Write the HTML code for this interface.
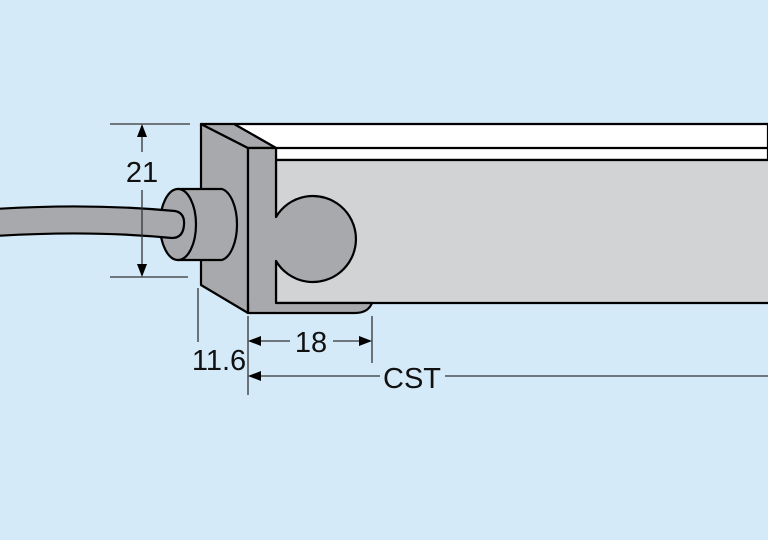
<!DOCTYPE html>
<html><head><style>html,body{margin:0;padding:0;background:#d5eaf8;}svg{display:block}</style></head>
<body>
<svg width="768" height="540" viewBox="0 0 768 540" xmlns="http://www.w3.org/2000/svg">
<rect width="768" height="540" fill="#d5eaf8"/>
<g stroke="#000" stroke-width="2.2" stroke-linejoin="round">
<!-- top white -->
<polygon points="234,124 768,124 768,160 276,160 276,148" fill="#fff"/>
<line x1="276" y1="148" x2="768" y2="148"/>
<!-- body -->
<rect x="276" y="160" width="500" height="143" fill="#d1d3d4"/>
<!-- bottom strip -->
<path d="M248,303 L372,303 Q368,313 355,313 L248,313 Z" fill="#a7a9ac" stroke="none"/>
<!-- left face -->
<polygon points="201,124 248,148 248,313 201,285" fill="#a7a9ac"/>
<!-- top face of cap -->
<polygon points="201,124 234,124 276,148 248,148" fill="#a7a9ac"/>
<!-- front face -->
<path d="M248,148 L276,148 L276,217 A43,43 0 1 1 276,261 L276,303 L248,303 Z" fill="#a7a9ac" stroke="none"/>
<rect x="272" y="218" width="8" height="42" fill="#a7a9ac" stroke="none"/>
<path d="M248,148 L276,148 L276,217 A43,43 0 1 1 276,261 L276,303 L372,303 Q368,313 355,313 L248,313 L248,148" fill="none"/>
<!-- gland -->
<path d="M178,189 L222,189 A18,36 0 0 1 222,260 L178,260 Z" fill="#a7a9ac"/>
<ellipse cx="178" cy="224.5" rx="18" ry="35.5" fill="#a7a9ac"/>
<!-- cable -->
<path d="M-5,209 Q90,203 175,211 Q185,213 184,225 Q183,238 172,238 Q90,230 -5,236 Z" fill="#a7a9ac"/>
</g>
<g stroke="#333" stroke-width="1.3" fill="none">
<line x1="110" y1="124" x2="190" y2="124"/>
<line x1="110" y1="277" x2="188" y2="277"/>
<line x1="142" y1="126" x2="142" y2="152"/>
<line x1="142" y1="190" x2="142" y2="275"/>
<line x1="198" y1="288" x2="198" y2="342"/>
<line x1="248" y1="316" x2="248" y2="395"/>
<line x1="372" y1="316" x2="372" y2="363"/>
<line x1="250" y1="341" x2="290" y2="341"/>
<line x1="333" y1="341" x2="370" y2="341"/>
<line x1="250" y1="376" x2="380" y2="376"/>
<line x1="445" y1="376" x2="768" y2="376"/>
</g>
<g fill="#000">
<polygon points="142,124 137,137 147,137"/>
<polygon points="142,277 137,264 147,264"/>
<polygon points="248,341 261,336 261,346"/>
<polygon points="372,341 359,336 359,346"/>
<polygon points="248,376 261,371 261,381"/>
</g>
<g font-family="Liberation Sans, sans-serif" font-size="29" fill="#111" text-anchor="middle">
<text x="142" y="182">21</text>
<text x="219" y="370">11.6</text>
<text x="311" y="352">18</text>
<text x="412" y="388">CST</text>
</g>
</svg>
</body></html>
